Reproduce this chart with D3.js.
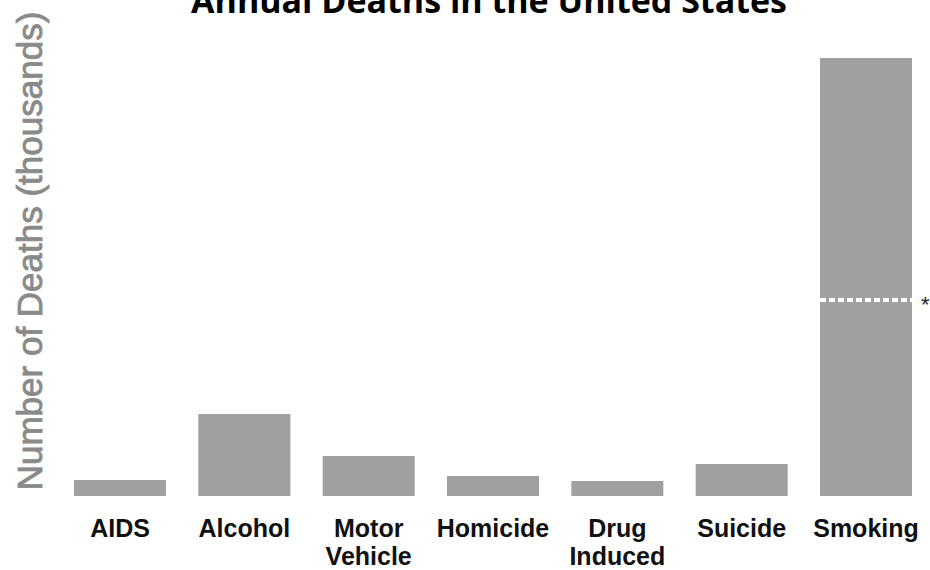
<!DOCTYPE html>
<html>
<head>
<meta charset="utf-8">
<script src="https://cdn.jsdelivr.net/npm/d3@7"></script>
<style>
  body { margin: 0; background: #fff; }
  svg { display: block; }
</style>
</head>
<body>
<svg id="chart"></svg>
<script>
 var width = 930;
 var height = 570;

 // data, thousands of deaths per year
 const categories = ["AIDS", "Alcohol", "Motor Vehicle", "Homicide", "Drug Induced", "Suicide", "Smoking"];
 const deaths = [16, 82, 40, 20, 15, 32, 438];
 const labelLines = [["AIDS"], ["Alcohol"], ["Motor", "Vehicle"], ["Homicide"], ["Drug", "Induced"], ["Suicide"], ["Smoking"]];
 const markCategory = "Smoking";
 const markValue = 196;

 const data = categories.map((c, i) => ({ name: c, value: deaths[i], lines: labelLines[i] }));

 const svg = d3.select("#chart")
   .attr("width", width)
   .attr("height", height);

 const x = d3.scaleBand()
   .domain(categories)
   .range([74, 912])
   .paddingInner(0.26)
   .paddingOuter(0);

 const y = d3.scaleLinear()
   .domain([0, 438])
   .range([496, 58]);

 // bars
 svg.append("g")
   .selectAll("rect")
   .data(data)
   .enter()
   .append("rect")
   .attr("x", d => x(d.name))
   .attr("y", d => y(d.value))
   .attr("width", x.bandwidth())
   .attr("height", d => y(0) - y(d.value))
   .attr("fill", "#a0a0a0");

 // dashed marker in smoking bar
 svg.append("line")
   .attr("x1", x(markCategory))
   .attr("x2", x(markCategory) + x.bandwidth())
   .attr("y1", y(markValue))
   .attr("y2", y(markValue))
   .attr("stroke", "#fff")
   .attr("stroke-width", 4)
   .attr("stroke-dasharray", "6,3");

 svg.append("text")
   .attr("x", x(markCategory) + x.bandwidth() + 9)
   .attr("y", y(markValue) + 12)
   .style("font-family", "Liberation Sans, Arial, sans-serif")
   .style("font-size", "22px")
   .attr("fill", "#222")
   .text("*");

 // category labels
 const labels = svg.append("g")
   .selectAll("text")
   .data(data)
   .enter()
   .append("text")
   .attr("text-anchor", "middle")
   .attr("transform", d => `translate(${x(d.name) + x.bandwidth() / 2}, 537)`)
   .style("font-family", "Liberation Sans, Arial, sans-serif")
   .style("font-weight", "bold")
   .style("font-size", "25px")
   .attr("fill", "#111");

 labels.selectAll("tspan")
   .data(d => d.lines)
   .enter()
   .append("tspan")
   .attr("x", 0)
   .attr("dy", (d, i) => i === 0 ? 0 : 28)
   .text(d => d);

 // y axis title
 svg.append("text")
   .attr("transform", "translate(42, 251) rotate(-90)")
   .attr("text-anchor", "middle")
   .style("font-family", "Liberation Sans, Arial, sans-serif")
   .style("font-size", "35px")
   .attr("fill", "#8a8a8a")
   .attr("stroke", "#8a8a8a")
   .attr("stroke-width", 0.8)
   .text("Number of Deaths (thousands)");

 // chart title (cut off at top, as in the original)
 svg.append("text")
   .attr("x", 489)
   .attr("y", 13)
   .attr("text-anchor", "middle")
   .style("font-family", "Open Sans, sans-serif")
   .style("font-weight", "bold")
   .style("font-size", "34px")
   .attr("fill", "#000")
   .text("Annual Deaths in the United States");
</script>
</body>
</html>
